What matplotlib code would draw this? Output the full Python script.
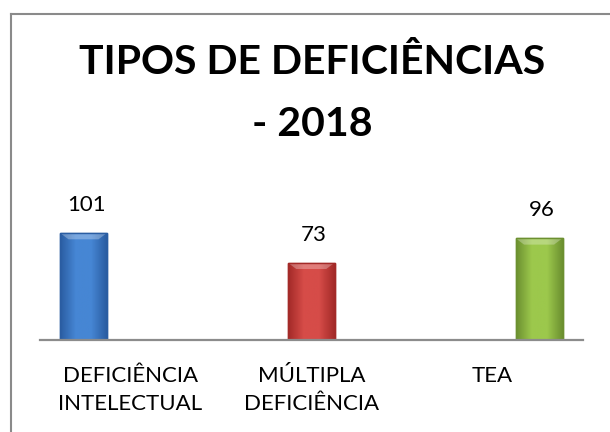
import numpy as np
import matplotlib
matplotlib.use("Agg")
import matplotlib.pyplot as plt
from matplotlib.lines import Line2D
from matplotlib.colors import LinearSegmentedColormap

# =====================================================
# DATA
# =====================================================

categories = ["DEFICIÊNCIA\nINTELECTUAL", "MÚLTIPLA\nDEFICIÊNCIA", "TEA"]
values = [101, 73, 96]
title_lines = ["TIPOS DE DEFICIÊNCIAS", "- 2018"]

# edge / centre colours for the bevelled bars
bar_edges = ["#2a5da2", "#a32a28", "#6c9030"]
bar_centres = ["#4686d4", "#d64c48", "#9cc84c"]

FONT = "Lato"

fig = plt.figure(figsize=(6.1, 4.32), dpi=100)
fig.patch.set_facecolor("white")

ax = fig.add_axes([40 / 610, (432 - 340) / 432, 543 / 610, 127.2 / 432])

x = np.arange(len(values))
bars = ax.bar(x, values, width=0.206, color=bar_centres,
              edgecolor=bar_edges, linewidth=1.0, zorder=3)

ax.set_xlim(-0.191, 2.193)
ax.set_ylim(0, 120)

# horizontal gradient inside each bar (dark edges, light centre)
for bar, c_edge, c_mid in zip(bars, bar_edges, bar_centres):
    cmap = LinearSegmentedColormap.from_list("g", [c_edge, c_mid, c_mid, c_edge])
    grad = np.linspace(0, 1, 64).reshape(1, -1)
    x0 = bar.get_x()
    w = bar.get_width()
    h = bar.get_height()
    im = ax.imshow(grad, cmap=cmap, aspect="auto",
                   extent=[x0, x0 + w, 0, h], zorder=3.5)
    im.set_clip_path(bar)
    # lighter top bevel
    ax.fill([x0, x0 + w, x0 + w * 0.82, x0 + w * 0.18],
            [h, h, h - 6, h - 6],
            color="white", alpha=0.28, zorder=4, lw=0)
    ax.add_patch(plt.Rectangle((x0, 0), w, h, fill=False,
                               edgecolor=c_edge, lw=1.0, zorder=5))

# value labels
for xi, v in zip(x, values):
    ax.annotate(str(v), (xi, v), textcoords="offset points",
                xytext=(2, 13), ha="center", va="bottom",
                fontsize=16, family=FONT, color="black")

# category labels centred in equal slots along the axis
lo, hi = ax.get_xlim()
slot = (hi - lo) / len(categories)
ax.set_xticks([lo + slot * (i + 0.5) for i in range(len(categories))])
ax.set_xticklabels(categories, fontsize=16, family=FONT, linespacing=1.5)
ax.tick_params(axis="x", length=0, pad=18.5)
ax.set_yticks([])

for s in ["top", "right", "left"]:
    ax.spines[s].set_visible(False)
ax.spines["bottom"].set_color("#8c8c8c")
ax.spines["bottom"].set_linewidth(1.6)
ax.spines["bottom"].set_zorder(6)
ax.set_facecolor("none")

# title
fig.text(312 / 610, 1 - 62 / 432, title_lines[0], ha="center", va="center",
         fontsize=29.5, fontweight="bold", family=FONT)
fig.text(312 / 610, 1 - 124 / 432, title_lines[1], ha="center", va="center",
         fontsize=29.5, fontweight="bold", family=FONT)

# chart frame (left and top edges visible)
fig.add_artist(Line2D([11 / 610, 11 / 610], [0, 1 - 14 / 432],
                      color="#8a8a8a", lw=1.5, transform=fig.transFigure))
fig.add_artist(Line2D([11 / 610, 1], [1 - 14 / 432, 1 - 14 / 432],
                      color="#8a8a8a", lw=1.5, transform=fig.transFigure))

fig.savefig("out.png", dpi=100)
